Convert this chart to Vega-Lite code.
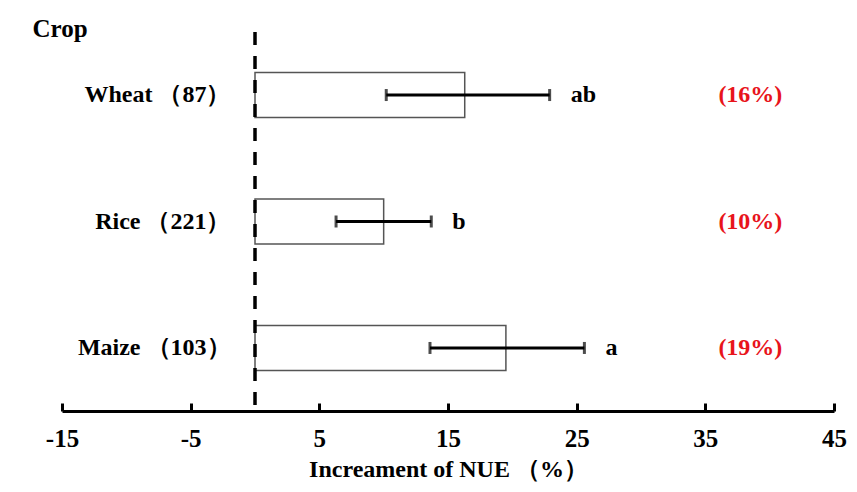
{
  "$schema": "https://vega.github.io/schema/vega-lite/v6.json",
  "width": 772,
  "height": 379,
  "autosize": "none",
  "padding": {"left": 62, "top": 32, "right": 23, "bottom": 81},
  "background": "white",
  "config": {"view": {"stroke": null}, "font": "Liberation Serif"},
  "data": {
    "values": [
      {"label": "Wheat （87）", "mean": 16.3, "lo": 10.2, "hi": 22.9, "sig": "ab", "pct": "(16%)"},
      {"label": "Rice （221）", "mean": 10.0, "lo": 6.3, "hi": 13.7, "sig": "b", "pct": "(10%)"},
      {"label": "Maize （103）", "mean": 19.5, "lo": 13.6, "hi": 25.6, "sig": "a", "pct": "(19%)"}
    ]
  },
  "layer": [
    {
      "encoding": {
        "y": {
          "field": "label",
          "type": "nominal",
          "sort": null,
          "scale": {"paddingInner": 0.643, "paddingOuter": 0.32},
          "axis": {
            "title": "Crop",
            "titleAngle": 0,
            "titleAlign": "left",
            "titleBaseline": "middle",
            "titleX": -30,
            "titleY": -4,
            "titleFont": "Liberation Serif",
            "titleFontSize": 25,
            "titleFontWeight": "bold",
            "titleColor": "black",
            "domain": false,
            "ticks": false,
            "labelPadding": -168,
            "labelFont": "Liberation Serif",
            "labelFontSize": 24,
            "labelFontWeight": "bold",
            "labelColor": "black"
          }
        }
      },
      "layer": [
        {
          "mark": {"type": "bar", "fill": "white", "stroke": "#555555", "strokeWidth": 1.5},
          "encoding": {
            "x": {
              "field": "mean",
              "type": "quantitative",
              "scale": {"domain": [-15, 45], "nice": false, "zero": false},
              "axis": {
                "values": [-15, -5, 5, 15, 25, 35, 45],
                "labelExpr": "'' + datum.value",
                "labelFlush": false,
                "grid": false,
                "domainColor": "black",
                "domainWidth": 3,
                "tickColor": "black",
                "tickWidth": 3,
                "tickSize": -8,
                "labelPadding": 23,
                "labelFont": "Liberation Serif",
                "labelFontSize": 25,
                "labelFontWeight": "bold",
                "labelColor": "black",
                "title": "Increament of NUE （%）",
                "titleFont": "Liberation Serif",
                "titleFontSize": 24,
                "titleFontWeight": "bold",
                "titleColor": "black",
                "titlePadding": 6
              }
            },
            "x2": {"datum": 0}
          }
        },
        {
          "mark": {"type": "rule", "color": "black", "strokeWidth": 3},
          "encoding": {
            "x": {"field": "lo", "type": "quantitative"},
            "x2": {"field": "hi"}
          }
        },
        {
          "mark": {"type": "tick", "color": "black", "thickness": 3, "size": 12},
          "encoding": {"x": {"field": "lo", "type": "quantitative"}}
        },
        {
          "mark": {"type": "tick", "color": "black", "thickness": 3, "size": 12},
          "encoding": {"x": {"field": "hi", "type": "quantitative"}}
        },
        {
          "mark": {"type": "text", "align": "left", "baseline": "middle", "dx": 21, "font": "Liberation Serif", "fontSize": 24, "fontWeight": "bold", "color": "black"},
          "encoding": {
            "x": {"field": "hi", "type": "quantitative"},
            "text": {"field": "sig"}
          }
        },
        {
          "mark": {"type": "text", "align": "center", "baseline": "middle", "font": "Liberation Serif", "fontSize": 24, "fontWeight": "bold", "color": "#e8141b"},
          "encoding": {
            "x": {"datum": 38.5},
            "text": {"field": "pct"}
          }
        }
      ]
    },
    {
      "data": {"values": [{"zero": 0}]},
      "mark": {"type": "rule", "color": "black", "strokeWidth": 3.5, "strokeDash": [13, 11]},
      "encoding": {"x": {"field": "zero", "type": "quantitative"}}
    }
  ]
}
